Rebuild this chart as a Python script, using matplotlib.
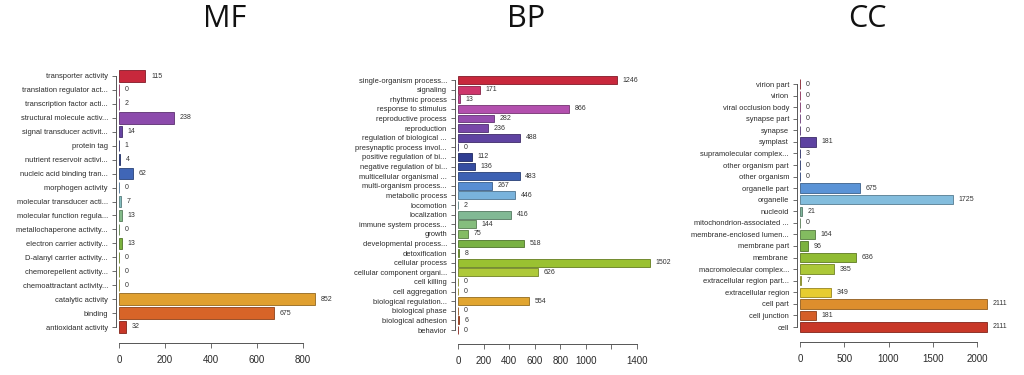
import matplotlib
matplotlib.use("Agg")
import matplotlib.pyplot as plt
import numpy as np
from matplotlib.colors import LinearSegmentedColormap, to_rgb

# GO term counts, top to bottom as shown
mf_labels = ["transporter activity", "translation regulator act...", "transcription factor acti...",
             "structural molecule activ...", "signal transducer activit...", "protein tag",
             "nutrient reservoir activi...", "nucleic acid binding tran...", "morphogen activity",
             "molecular transducer acti...", "molecular function regula...", "metallochaperone activity...",
             "electron carrier activity...", "D-alanyl carrier activity...", "chemorepellent activity...",
             "chemoattractant activity...", "catalytic activity", "binding", "antioxidant activity"]
mf_values = [115, 0, 2, 238, 14, 1, 4, 62, 0, 7, 13, 0, 13, 0, 0, 0, 852, 675, 32]

bp_labels = ["single-organism process...", "signaling", "rhythmic process", "response to stimulus",
             "reproductive process", "reproduction", "regulation of biological ...",
             "presynaptic process invol...", "positive regulation of bi...", "negative regulation of bi...",
             "multicellular organismal ...", "multi-organism process...", "metabolic process",
             "locomotion", "localization", "immune system process...", "growth",
             "developmental process...", "detoxification", "cellular process",
             "cellular component organi...", "cell killing", "cell aggregation",
             "biological regulation...", "biological phase", "biological adhesion", "behavior"]
bp_values = [1246, 171, 13, 866, 282, 236, 488, 0, 112, 136, 483, 267, 446, 2, 416, 144, 75,
             518, 8, 1502, 626, 0, 0, 554, 0, 6, 0]

cc_labels = ["virion part", "virion", "viral occlusion body", "synapse part", "synapse", "symplast",
             "supramolecular complex...", "other organism part", "other organism", "organelle part",
             "organelle", "nucleoid", "mitochondrion-associated ...", "membrane-enclosed lumen...",
             "membrane part", "membrane", "macromolecular complex...", "extracellular region part...",
             "extracellular region", "cell part", "cell junction", "cell"]
cc_values = [0, 0, 0, 0, 0, 181, 3, 0, 0, 675, 1725, 21, 0, 164, 96, 636, 385, 7, 349, 2111, 181, 2111]

# rainbow-like palette running red -> purple -> blue -> green -> yellow -> red
pal = LinearSegmentedColormap.from_list("go", [
    (0.00, "#c8283c"), (0.05, "#d03c80"), (0.12, "#b052b2"), (0.18, "#8048aa"),
    (0.24, "#5a42a0"), (0.30, "#2e3a90"), (0.38, "#3a5cb0"), (0.43, "#5c96d8"),
    (0.48, "#88c2de"), (0.53, "#80b898"), (0.60, "#88c070"), (0.66, "#78b040"),
    (0.73, "#98c030"), (0.80, "#c0d040"), (0.86, "#e8cc30"), (0.89, "#e0a030"),
    (0.94, "#d86828"), (1.00, "#c83828")])

plt.rcParams["font.family"] = ["Liberation Sans", "DejaVu Sans"]
W, H = 1024, 375
fig = plt.figure(figsize=(W / 100, H / 100), dpi=100)


def panel(labels, values, x0, px_per_unit, xmax, first, last, axis_y, ticks, ticklabels):
    n = len(values)
    s = (last - first) / (n - 1)
    top = first - 0.6 * s
    bot = last + 0.6 * s
    ax = fig.add_axes([x0 / W, 1 - bot / H, xmax * px_per_unit / W, (bot - top) / H])
    # R-style detached axes (set before tick labels, it resets the ticks)
    for side in ("top", "right"):
        ax.spines[side].set_visible(False)
    ax.spines["left"].set_position(("outward", 2.5))
    ax.spines["bottom"].set_position(("outward", (axis_y - bot) * 0.72))
    cols = [pal(i / (n - 1)) for i in range(n)]
    edges = [tuple(np.array(to_rgb(c)) * 0.65) for c in cols]
    y = np.arange(n)
    ax.barh(y, values, height=0.82, color=cols, edgecolor=edges, linewidth=0.6)
    for yi, v in zip(y, values):
        ax.annotate(str(v), (v, yi), xytext=(4, 0), textcoords="offset points",
                    ha="left", va="center", fontsize=5, color="#333333",
                    annotation_clip=False)
    ax.set_xlim(0, xmax)
    ax.set_ylim(n - 1 + 0.6, -0.6)
    ax.set_yticks(y)
    ax.set_yticklabels(labels, fontsize=5.4, color="#2a2a2a")
    ax.set_xticks(ticks)
    ax.set_xticklabels(ticklabels, fontsize=7, color="#2a2a2a")
    ax.spines["left"].set_bounds(0, n - 1)
    ax.spines["bottom"].set_bounds(ticks[0], ticks[-1])
    for sp in ("left", "bottom"):
        ax.spines[sp].set_color("#555555")
        ax.spines[sp].set_linewidth(0.7)
    ax.tick_params(axis="y", length=3, width=0.6, pad=2.5, colors="#555555", labelcolor="#2a2a2a")
    ax.tick_params(axis="x", length=3.5, width=0.6, pad=5, colors="#555555", labelcolor="#2a2a2a")
    ax.patch.set_alpha(0)
    return ax


panel(mf_labels, mf_values, 119, 184 / 800, 900, 76, 327, 343,
      [0, 200, 400, 600, 800], ["0", "200", "400", "600", "800"])
panel(bp_labels, bp_values, 458, 179 / 1400, 1600, 80, 330, 344,
      [0, 200, 400, 600, 800, 1000, 1200, 1400], ["0", "200", "400", "600", "800", "1000", "", "1400"])
panel(cc_labels, cc_values, 800, 177 / 2000, 2300, 84, 327, 342,
      [0, 500, 1000, 1500, 2000], ["0", "500", "1000", "1500", "2000"])

for txt, x in [("MF", 225), ("BP", 526), ("CC", 867)]:
    fig.text(x / W, 1 - 19 / H, txt, ha="center", va="center", fontsize=22,
             family="Open Sans", color="#111111")

fig.savefig("out.png", dpi=100, facecolor="white")
